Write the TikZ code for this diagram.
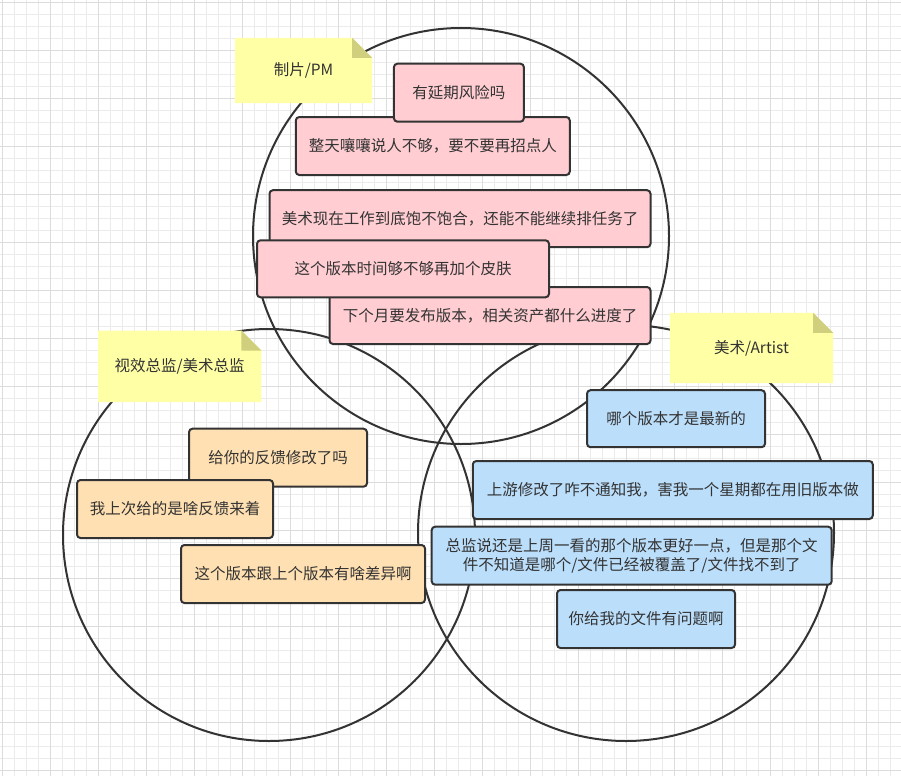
\documentclass[tikz,border=0pt]{standalone}
\usepackage{fontspec}
\setmainfont{Noto Sans CJK SC}
\usetikzlibrary{calc}
\definecolor{ink}{HTML}{333333}
\definecolor{gridminor}{HTML}{EBEBEB}
\definecolor{gridmajor}{HTML}{DCDCDC}
\definecolor{pinkfill}{HTML}{FFCDD2}
\definecolor{orangefill}{HTML}{FFE0B2}
\definecolor{bluefill}{HTML}{BBDEFB}
\definecolor{noteyellow}{HTML}{FFFFA6}
\definecolor{notefold}{HTML}{CFCF7E}
\tikzset{
  txt/.style={text=ink, font=\fontsize{15.5}{18.5}\selectfont, align=center, inner sep=0pt},
  box/.style={txt, draw=ink, line width=2pt, rounded corners=3.5pt},
  pinkbox/.style={box, fill=pinkfill},
  orangebox/.style={box, fill=orangefill},
  bluebox/.style={box, fill=bluefill},
  notebox/.style={txt},
  ring/.style={draw=ink, line width=2pt},
}
\newcommand{\stickynote}[1]{%
  \fill[noteyellow] (#1.south west) |- ($(#1.north east)+(-20,0)$) -- ($(#1.north east)+(0,20)$) -- (#1.south east) -- cycle;
  \fill[notefold] ($(#1.north east)+(-20,0)$) -- ($(#1.north east)+(-20,20)$) -- ($(#1.north east)+(0,20)$) -- cycle;
}
\begin{document}
\begin{tikzpicture}[x=1pt,y=-1pt]
\useasboundingbox (0,0) rectangle (901,776);
\fill[white] (0,0) rectangle (901,776);
% grid
\foreach \i in {0,...,74} \draw[gridminor, line width=0.9pt] (2+12*\i,0) -- (2+12*\i,776);
\foreach \i in {0,...,64} \draw[gridminor, line width=0.9pt] (0,2+12*\i) -- (901,2+12*\i);
\foreach \i in {0,...,18} \draw[gridmajor, line width=0.9pt] (2+48*\i,0) -- (2+48*\i,776);
\foreach \i in {0,...,16} \draw[gridmajor, line width=0.9pt] (0,2+48*\i) -- (901,2+48*\i);

% circles
\draw[ring] (461,236) circle[radius=208pt];
\draw[ring] (269,535) circle[radius=206pt];
\draw[ring] (626,533) circle[radius=208pt];

% sticky notes
\node[notebox, minimum width=137pt, minimum height=65pt] (pm) at (303.5,70.5) {};
\stickynote{pm}
\node[txt] at (pm.center) {制片/PM};
\node[notebox, minimum width=163pt, minimum height=71pt] (vfx) at (179.7,366.3) {};
\stickynote{vfx}
\node[txt] at (vfx.center) {视效总监/美术总监};
\node[notebox, minimum width=163pt, minimum height=70pt] (art) at (751.5,348) {};
\stickynote{art}
\node[txt] at (art.center) {美术/Artist};

% PM boxes
\node[pinkbox, minimum width=274pt, minimum height=58pt] (b) at (432.8,146) {整天嚷嚷说人不够，要不要再招点人};
\node[pinkbox, minimum width=130pt, minimum height=58pt] (a) at (458.9,92.7) {有延期风险吗};
\node[pinkbox, minimum width=381pt, minimum height=57pt] (c) at (460,218.7) {美术现在工作到底饱不饱合，还能不能继续排任务了};
\node[pinkbox, minimum width=321pt, minimum height=57pt] (e) at (490,315.5) {下个月要发布版本，相关资产都什么进度了};
\node[pinkbox, minimum width=292pt, minimum height=57pt] (d) at (403,268.8) {这个版本时间够不够再加个皮肤};

% Director boxes
\node[orangebox, minimum width=178pt, minimum height=58pt] (f) at (278,457.7) {给你的反馈修改了吗};
\node[orangebox, minimum width=196pt, minimum height=58pt] (g) at (175,509) {我上次给的是啥反馈来着};
\node[orangebox, minimum width=244pt, minimum height=58pt] (h) at (303,574) {这个版本跟上个版本有啥差异啊};

% Artist boxes
\node[bluebox, minimum width=178pt, minimum height=57pt] (i) at (676,418.7) {哪个版本才是最新的};
\node[bluebox, minimum width=400pt, minimum height=58pt] (j) at (672.8,490) {上游修改了咋不通知我，害我一个星期都在用旧版本做};
\node[bluebox, minimum width=400pt, minimum height=58pt] (k) at (631.7,555.7) {总监说还是上周一看的那个版本更好一点，但是那个文\\件不知道是哪个/文件已经被覆盖了/文件找不到了};
\node[bluebox, minimum width=178pt, minimum height=58pt] (l) at (646,619) {你给我的文件有问题啊};
\end{tikzpicture}
\end{document}
